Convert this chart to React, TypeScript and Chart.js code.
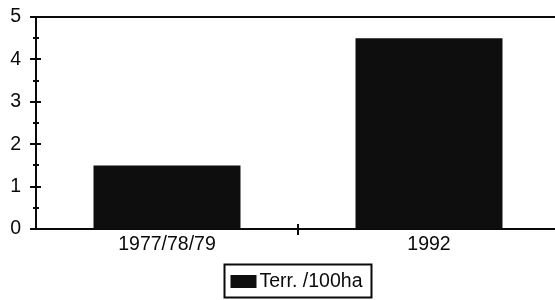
import React, { useEffect, useRef } from "react";
import { Chart, registerables } from "chart.js";

Chart.register(...registerables);

const categories = ["1977/78/79", "1992"];
const seriesLabel = "Terr. /100ha";
const seriesValues = [1.5, 4.5];
const yTicks = [0, 1, 2, 3, 4, 5];

const FONT = "'Liberation Sans', Arial, sans-serif";
const INK = "#0a0a0a";
const FS = 19.5;

const decorPlugin = {
  id: "decor",
  afterDraw(chart: any) {
    const ctx = chart.ctx;
    const area = chart.chartArea;
    const x = chart.scales.x;
    const y = chart.scales.y;
    ctx.save();
    ctx.strokeStyle = INK;
    ctx.lineWidth = 2;
    // top frame line
    ctx.beginPath();
    ctx.moveTo(area.left, area.top);
    ctx.lineTo(area.right, area.top);
    ctx.stroke();
    // y ticks: major and minor
    ctx.lineWidth = 2;
    for (let v = 0; v <= 5.001; v += 0.5) {
      const py = Math.round(y.getPixelForValue(v));
      const major = Math.abs(v - Math.round(v)) < 1e-6;
      ctx.beginPath();
      ctx.moveTo(area.left - (major ? 6 : 3), py);
      ctx.lineTo(area.left + (major ? 5 : 3), py);
      ctx.stroke();
    }
    // x category boundary tick
    for (let i = 0; i < categories.length - 1; i++) {
      const px = Math.round((x.getPixelForValue(i) + x.getPixelForValue(i + 1)) / 2);
      ctx.beginPath();
      ctx.moveTo(px, area.bottom - 5);
      ctx.lineTo(px, area.bottom + 6);
      ctx.stroke();
    }
    // legend with box
    const ds = chart.data.datasets[0];
    ctx.font = `${FS}px ${FONT}`;
    const tw = ctx.measureText(ds.label).width;
    const sw = 26;
    const boxW = 6 + sw + 3 + tw + 9;
    const boxH = 33;
    const cx = (area.left + area.right) / 2 - 1;
    const bx = Math.round(cx - boxW / 2) + 0.5;
    const by = 264.5;
    ctx.lineWidth = 2;
    ctx.strokeRect(bx, by, boxW, boxH);
    ctx.fillStyle = ds.backgroundColor;
    ctx.fillRect(bx + 6, 275, sw, 13);
    ctx.fillStyle = INK;
    ctx.textBaseline = "middle";
    ctx.textAlign = "left";
    ctx.fillText(ds.label, bx + 6 + sw + 3, 282);
    ctx.restore();
  },
};

export default function App() {
  const ref = useRef<HTMLCanvasElement | null>(null);

  useEffect(() => {
    document.body.style.margin = "0";
    document.body.style.overflow = "hidden";
    const chart = new Chart(ref.current as HTMLCanvasElement, {
      type: "bar",
      data: {
        labels: categories,
        datasets: [
          {
            label: seriesLabel,
            data: seriesValues,
            backgroundColor: "#0e0e0e",
            borderWidth: 0,
            barPercentage: 0.561,
            categoryPercentage: 1,
          },
        ],
      },
      options: {
        animation: false,
        responsive: false,
        maintainAspectRatio: false,
        devicePixelRatio: 1,
        layout: { padding: { top: 17, left: 0, right: 0, bottom: 49 } },
        plugins: {
          legend: { display: false },
          tooltip: { enabled: false },
        },
        scales: {
          x: {
            grid: { display: false, drawTicks: false },
            border: { display: true, color: INK, width: 2 },
            ticks: {
              color: INK,
              font: { family: FONT, size: FS },
              padding: 4,
              maxRotation: 0,
            },
            afterFit(scale: any) {
              scale.height = 22;
              scale.paddingLeft = 0;
              scale.paddingRight = 0;
            },
          },
          y: {
            min: 0,
            max: 5,
            afterBuildTicks(scale: any) {
              scale.ticks = yTicks.map((v) => ({ value: v }));
            },
            grid: { display: false, drawTicks: false },
            border: { display: true, color: INK, width: 2 },
            ticks: {
              color: INK,
              font: { family: FONT, size: FS },
              padding: 15,
            },
            afterFit(scale: any) {
              scale.width = 36;
              scale.paddingTop = 0;
              scale.paddingBottom = 0;
            },
          },
        },
      } as any,
      plugins: [decorPlugin],
    });
    return () => chart.destroy();
  }, []);

  return (
    <div style={{ width: 555, height: 300, overflow: "hidden", position: "relative" }}>
      <canvas
        ref={ref}
        width={560}
        height={300}
        style={{ position: "absolute", left: 0, top: 0, width: 560, height: 300 }}
      />
    </div>
  );
}
